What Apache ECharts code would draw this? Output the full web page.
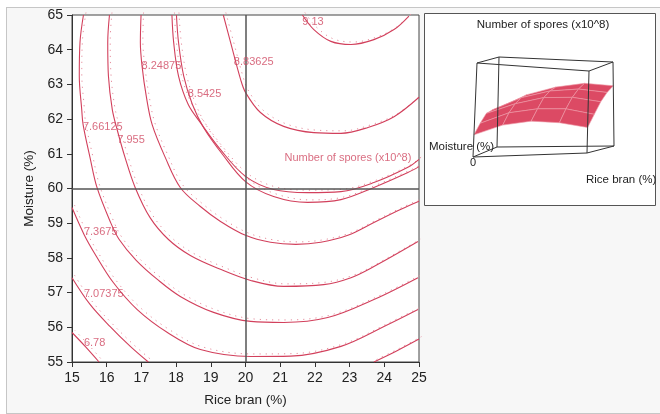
<!DOCTYPE html>
<html>
<head>
<meta charset="utf-8">
<script src="https://cdn.jsdelivr.net/npm/echarts@6/dist/echarts.min.js"></script>
<style>
html,body{margin:0;padding:0;background:#fff;}
#wrap{position:relative;width:660px;height:414px;overflow:hidden;}
#bg{position:absolute;left:6px;top:7px;width:680px;height:405px;border:1px solid #c6c6c6;background:#f7f7f7;}
#c{position:absolute;left:0;top:0;width:660px;height:414px;}
</style>
</head>
<body>
<div id="wrap"><div id="bg"></div><div id="c"></div></div>
<script>
// ---------- data ----------
const riceBranTicks = [15,16,17,18,19,20,21,22,23,24,25];
const moistureTicks = [55,56,57,58,59,60,61,62,63,64,65];
const currentRiceBran = 20;
const currentMoisture = 60;

// contour lines: [rice bran %, moisture %]
const contour9_13 = [[21.64,65.0],[21.97,64.58],[22.46,64.24],[23.04,64.15],[23.70,64.29],[24.28,64.58],[24.71,64.97]];
const contour8_83625 = [[19.36,65.0],[19.57,64.21],[19.86,63.14],[20.00,62.77],[20.43,62.19],[21.10,61.79],[21.97,61.61],[22.75,61.59],[23.53,61.76],[24.28,62.07],[25.0,62.63]];
const contour8_5425 = [[17.88,65.0],[17.93,64.21],[18.07,63.24],[18.35,62.42],[18.70,61.90],[19.28,61.12],[20.0,60.35],[20.81,59.97],[21.79,59.88],[22.75,59.91],[23.70,60.17],[24.68,60.61],[25.0,60.84]];
const contourCurrent = [[18.01,65.0],[18.07,64.21],[18.22,63.24],[18.47,62.42],[18.79,61.76],[19.34,60.98],[20.0,60.20],[20.81,59.77],[21.79,59.60],[22.75,59.68],[23.70,60.03],[24.68,60.46],[25.0,60.63]];
const contour8_24875 = [[16.99,65.0],[16.97,64.21],[17.02,63.52],[17.14,62.66],[17.31,61.84],[17.69,60.89],[18.12,60.03],[18.70,59.48],[19.28,59.05],[20.0,58.65],[20.72,58.45],[21.45,58.39],[22.17,58.45],[22.95,58.65],[23.70,59.02],[24.48,59.40],[25.0,59.63]];
const contour7_955 = [[16.08,65.0],[16.03,64.21],[16.05,63.24],[16.16,62.28],[16.30,61.70],[16.53,60.89],[16.82,60.03],[17.25,59.16],[17.78,58.53],[18.41,58.07],[19.28,57.67],[20.15,57.35],[21.10,57.18],[22.25,57.23],[23.04,57.43],[23.70,57.75],[24.97,58.47]];
const contour7_66125 = [[15.33,65.0],[15.23,64.21],[15.21,63.24],[15.28,62.28],[15.32,61.84],[15.52,60.89],[15.72,60.03],[16.10,59.05],[16.36,58.53],[16.85,57.93],[17.46,57.38],[18.12,56.89],[19.08,56.43],[20.15,56.17],[21.10,56.14],[22.37,56.28],[23.70,56.80],[24.97,57.43]];
const contour7_3675 = [[15.0,59.45],[15.35,58.67],[15.67,58.10],[16.19,57.29],[16.88,56.51],[17.75,55.85],[18.70,55.36],[20.15,55.16],[21.30,55.17],[22.75,55.45],[23.99,56.02],[24.97,56.51]];
const contour7_07375a = [[15.0,57.43],[15.52,56.66],[16.10,56.02],[16.68,55.45],[17.20,55.0]];
const contour7_07375b = [[23.70,55.0],[24.34,55.31],[25.0,55.66]];
const contour6_78 = [[15.0,55.85],[15.38,55.45],[15.78,55.0]];

// contour labels: text and the data point where each label starts
const labelTexts = ['9.13','8.83625','8.5425','8.24875','7.955','7.66125','7.3675','7.07375','6.78','Number of spores (x10^8)'];
const labelRiceBran = [21.62,19.65,18.32,16.99,16.29,15.30,15.33,15.33,15.33,21.11];
const labelMoisture = [64.81,63.66,62.71,63.54,61.41,61.78,58.74,56.95,55.55,60.88];

// surface for the 3-D inset
const surfaceRiceBran = [15, 17.5, 20, 22.5, 25];
const surfaceMoisture = [55, 57.5, 60, 62.5, 65];
const surfaceSpores = [
  [6.55, 7.10, 7.34, 7.25, 6.95],
  [7.08, 7.70, 7.96, 7.99, 7.67],
  [7.52, 8.11, 8.52, 8.58, 8.35],
  [7.60, 8.35, 8.80, 8.97, 8.81],
  [7.58, 8.42, 8.92, 9.20, 9.10]
];
const sporesAxisRange = [5.3, 10.6];

// ---------- chart ----------
const FONT = "'Liberation Sans', Arial, Helvetica, sans-serif";
const LINE = '#d2405c';
const DOT = '#e6909f';
const contourList = [contour9_13, contour8_83625, contour8_5425, contourCurrent, contour8_24875,
  contour7_955, contour7_66125, contour7_3675, contour7_07375a, contour7_07375b, contour6_78];

// cube layout of the inset (pixel corners: front/back, bottom/top, left/right)
const cube = {
  fbl:[473,157], fbr:[587,153], ftl:[477,63], ftr:[589,71],
  bbl:[497,147], bbr:[614,146], btl:[499,57], btr:[613,62]
};
function lerp(a,b,t){return [a[0]+(b[0]-a[0])*t, a[1]+(b[1]-a[1])*t];}
function project(u,v,w){
  const fb=lerp(cube.fbl,cube.fbr,u), ft=lerp(cube.ftl,cube.ftr,u);
  const bb=lerp(cube.bbl,cube.bbr,u), bt=lerp(cube.btl,cube.btr,u);
  return lerp(lerp(fb,ft,w), lerp(bb,bt,w), v);
}
const xr=[surfaceRiceBran[0], surfaceRiceBran[surfaceRiceBran.length-1]];
const yr=[surfaceMoisture[0], surfaceMoisture[surfaceMoisture.length-1]];
function proj3(x,y,z){
  return project((x-xr[0])/(xr[1]-xr[0]), (y-yr[0])/(yr[1]-yr[0]),
    (z-sporesAxisRange[0])/(sporesAxisRange[1]-sporesAxisRange[0]));
}
const cells=[];
for(let i=surfaceMoisture.length-2;i>=0;i--) for(let j=0;j<surfaceRiceBran.length-1;j++) cells.push([i,j]);

const axisCommon = {
  type:'value', interval:1,
  axisLine:{show:true, lineStyle:{color:'#333', width:1}},
  axisTick:{show:true, length:5, lineStyle:{color:'#333'}},
  axisLabel:{color:'#222', fontSize:14, fontFamily:FONT},
  splitLine:{show:false},
  nameLocation:'middle',
  nameTextStyle:{color:'#222', fontSize:13.5, fontFamily:FONT}
};

const series = [];
contourList.forEach((d,k)=>{
  series.push({
    type:'line', data:d, xAxisIndex:0, yAxisIndex:0, symbol:'none', showSymbol:false,
    smooth:0.35, silent:true, z:4,
    lineStyle:{color:LINE, width:1.1},
    markLine: k===0 ? {
      silent:true, symbol:['none','none'], label:{show:false},
      lineStyle:{color:'#555', width:1.5, type:'solid'},
      data:[{xAxis:currentRiceBran},{yAxis:currentMoisture}]
    } : undefined
  });
  series.push({
    type:'line', data:d, xAxisIndex:1, yAxisIndex:1, symbol:'none', showSymbol:false,
    smooth:0.35, silent:true, z:3,
    lineStyle:{color:DOT, width:1, type:[1.2,5]}
  });
});
series.push({
  type:'scatter', xAxisIndex:0, yAxisIndex:0, symbolSize:1, silent:true, z:5,
  itemStyle:{color:'rgba(0,0,0,0)'},
  data: labelTexts.map((t,i)=>[labelRiceBran[i], labelMoisture[i], t]),
  label:{show:true, position:'right', distance:0, formatter:p=>p.value[2],
    color:'#d04862', fontFamily:FONT,
    rich:{}, fontSize:11}
});
// 3-D surface
series.push({
  type:'custom', coordinateSystem:'none', silent:true, z:6,
  data: cells,
  renderItem:(params, api)=>{
    const i=api.value(0), j=api.value(1);
    const pts=[[i,j],[i,j+1],[i+1,j+1],[i+1,j]].map(([a,b])=>proj3(surfaceRiceBran[b], surfaceMoisture[a], surfaceSpores[a][b]));
    return {type:'polygon', shape:{points:pts}, style:{fill:'#dc4a64', stroke:'#ee9aa8', lineWidth:0.6}};
  }
});
// cube edges
series.push({
  type:'custom', coordinateSystem:'none', silent:true, z:7,
  data:[[0]],
  renderItem:()=>{
    const c=cube;
    const edges=[[c.fbl,c.fbr],[c.ftl,c.ftr],[c.bbl,c.bbr],[c.btl,c.btr],
      [c.fbl,c.ftl],[c.fbr,c.ftr],[c.bbl,c.btl],[c.bbr,c.btr],
      [c.fbl,c.bbl],[c.fbr,c.bbr],[c.ftl,c.btl],[c.ftr,c.btr]];
    return {type:'group', children: edges.map(e=>({type:'line',
      shape:{x1:e[0][0],y1:e[0][1],x2:e[1][0],y2:e[1][1]},
      style:{stroke:'#333', lineWidth:1}}))};
  }
});

const option = {
  animation:false,
  backgroundColor:'transparent',
  textStyle:{fontFamily:FONT},
  grid:[
    {left:72, top:15, width:347, height:347, show:true, backgroundColor:'#fff', borderColor:'#444', borderWidth:1, containLabel:false},
    {left:74.5, top:12.5, width:347, height:347, show:false, containLabel:false}
  ],
  xAxis:[
    Object.assign({}, axisCommon, {gridIndex:0, min:riceBranTicks[0], max:riceBranTicks[riceBranTicks.length-1],
      name:'Rice bran (%)', nameGap:31, axisLabel:Object.assign({}, axisCommon.axisLabel, {margin:9})}),
    {type:'value', gridIndex:1, min:riceBranTicks[0], max:riceBranTicks[riceBranTicks.length-1], show:false}
  ],
  yAxis:[
    Object.assign({}, axisCommon, {gridIndex:0, min:moistureTicks[0], max:moistureTicks[moistureTicks.length-1],
      name:'Moisture (%)', nameGap:28, axisLabel:Object.assign({}, axisCommon.axisLabel, {margin:9})}),
    {type:'value', gridIndex:1, min:moistureTicks[0], max:moistureTicks[moistureTicks.length-1], show:false}
  ],
  graphic:[
    {type:'rect', z:0, shape:{x:424.5, y:13.5, width:231, height:192}, style:{fill:'#fff', stroke:'#555', lineWidth:1}},
    {type:'text', z:1, x:543, y:25, style:{text:'Number of spores (x10^8)', fill:'#222', font:'11.5px '+FONT, textAlign:'center', textVerticalAlign:'middle'}},
    {type:'text', z:1, x:429, y:147, style:{text:'Moisture (%)', fill:'#222', font:'11.5px '+FONT, textAlign:'left', textVerticalAlign:'middle'}},
    {type:'text', z:1, x:473, y:163, style:{text:'0', fill:'#222', font:'11px '+FONT, textAlign:'center', textVerticalAlign:'middle'}},
    {type:'text', z:1, x:586, y:180, style:{text:'Rice bran (%)', fill:'#222', font:'11.5px '+FONT, textAlign:'left', textVerticalAlign:'middle'}}
  ],
  series: series
};
const chart = echarts.init(document.getElementById('c'), null, {renderer:'canvas'});
chart.setOption(option);
</script>
</body>
</html>
